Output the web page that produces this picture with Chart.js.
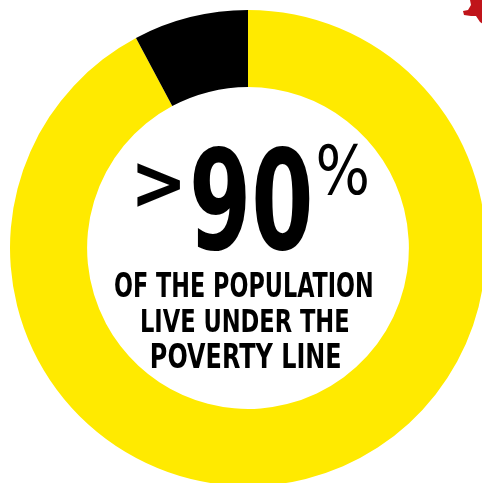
<!DOCTYPE html>
<html lang="en">
<head>
    <meta charset="UTF-8">
    <title>Population under the poverty line</title>
    <script src="https://cdn.jsdelivr.net/npm/chart.js"></script>
    <style>
        html, body { margin: 0; padding: 0; background: #fff; overflow: hidden; }
        .wrap { position: absolute; left: 0; top: 0; width: 486px; height: 486px; }
    </style>
</head>
<body>

    <div class="wrap">
        <canvas id="myChart"></canvas>
    </div>

    <script>
        // data
        var labels = ['Under the poverty line', 'Above the poverty line'];
        var shares = [92.2, 7.8];
        var colors = ['#ffea00', '#000000'];

        // centre text: string, weight + box it should fill (left, top, right, bottom)
        var textItems = [
            { text: '>', weight: 'bold', box: [137, 163, 180, 207] },
            { text: '90', weight: 'bold', box: [193, 145, 310, 250] },
            { text: '%', weight: 'normal', box: [318, 143, 367, 195] },
            { text: 'OF THE POPULATION', weight: 'bold', box: [115, 272, 372, 297] },
            { text: 'LIVE UNDER THE', weight: 'bold', box: [142, 308, 348, 332] },
            { text: 'POVERTY LINE', weight: 'bold', box: [152, 343, 340, 368] }
        ];

        var fontFamily = '"Liberation Sans Narrow", "DejaVu Sans Condensed", "Liberation Sans", sans-serif';

        function fitText(ctx, item) {
            var b = item.box;
            ctx.save();
            ctx.font = item.weight + ' 100px ' + fontFamily;
            ctx.textAlign = 'left';
            ctx.textBaseline = 'alphabetic';
            var m = ctx.measureText(item.text);
            var w = m.actualBoundingBoxLeft + m.actualBoundingBoxRight;
            var h = m.actualBoundingBoxAscent + m.actualBoundingBoxDescent;
            var sx = (b[2] - b[0]) / w;
            var sy = (b[3] - b[1]) / h;
            ctx.translate(b[0], b[1]);
            ctx.scale(sx, sy);
            ctx.fillStyle = '#000';
            ctx.fillText(item.text, m.actualBoundingBoxLeft, m.actualBoundingBoxAscent);
            ctx.restore();
        }

        var centreText = {
            id: 'centreText',
            afterDraw: function (chart) {
                var ctx = chart.ctx;
                textItems.forEach(function (item) { fitText(ctx, item); });

                // little red splash in the top right corner
                ctx.save();
                ctx.fillStyle = '#c0141a';
                ctx.beginPath();
                ctx.moveTo(470, 0);
                ctx.lineTo(486, 0);
                ctx.lineTo(486, 26);
                ctx.lineTo(480, 22);
                ctx.lineTo(476, 16);
                ctx.lineTo(471, 16);
                ctx.lineTo(464, 15);
                ctx.lineTo(463, 11);
                ctx.lineTo(468, 10);
                ctx.lineTo(471, 5);
                ctx.closePath();
                ctx.fill();
                ctx.restore();
            }
        };

        function createChart() {
            var ctx = document.getElementById('myChart').getContext('2d');
            new Chart(ctx, {
                type: 'doughnut',
                data: {
                    labels: labels,
                    datasets: [{
                        data: shares,
                        backgroundColor: colors,
                        borderWidth: 0
                    }]
                },
                options: {
                    responsive: true,
                    maintainAspectRatio: false,
                    animation: false,
                    cutout: '67.6%',
                    layout: { padding: { left: 10, top: 10, right: 0, bottom: 0 } },
                    plugins: {
                        legend: { display: false },
                        tooltip: { enabled: false }
                    }
                },
                plugins: [centreText]
            });
        }
        createChart();
    </script>

</body>
</html>
